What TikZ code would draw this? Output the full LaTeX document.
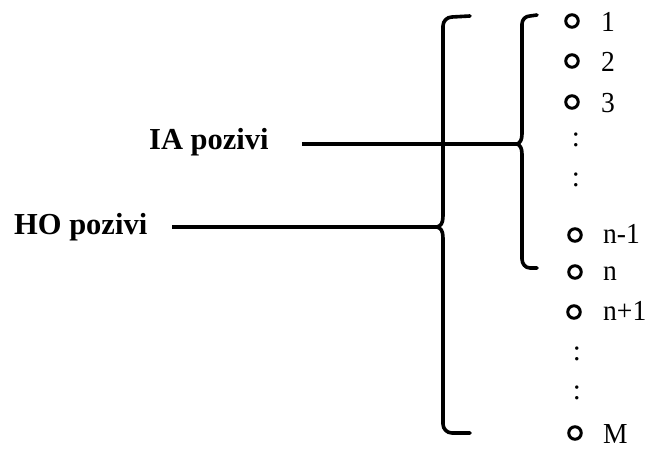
\documentclass[tikz,border=0pt]{standalone}
\usepackage{fontspec}
\setmainfont{Liberation Serif}
\begin{document}
\begin{tikzpicture}[x=1pt,y=-1pt,
  brk/.style={line width=3.6pt,line cap=round,line join=round},
  ln/.style={line width=3.4pt},
  bul/.style={circle,draw,line width=3pt,minimum size=12.5pt,inner sep=0pt},
  lab/.style={font=\fontsize{29}{29}\selectfont,inner sep=0pt,anchor=base west,xscale=0.95},
  dotc/.style={font=\fontsize{29}{29}\selectfont,inner sep=0pt},
  big/.style={font=\fontsize{30.5}{30}\selectfont\bfseries,inner sep=0pt,anchor=base west}]
\useasboundingbox (0,0) rectangle (649,449);
% labels
\node[big] (ia) at (149,150) {IA pozivi};
\node[big] (ho) at (14,235) {HO pozivi};
% cusps
\coordinate (ocusp) at (437,227);
\coordinate (icusp) at (517,144);
% outer bracket
\draw[brk] (470,16) -- (452,17) to[out=180,in=90] (443,26) -- (443,216)
  .. controls (443,223) and (441,226) .. (ocusp)
  .. controls (441,228) and (443,231) .. (443,238) -- (443,424)
  to[out=-90,in=180] (452,433) -- (470,433);
% inner bracket
\draw[brk] (537,15) -- (530,16) to[out=180,in=90] (522,24) -- (522,134)
  .. controls (522,140) and (520,143) .. (icusp)
  .. controls (520,145) and (522,148) .. (522,154) -- (522,259)
  to[out=-90,in=180] (530,268) -- (537,268);
% connectors
\draw[ln] ([xshift=33pt]ia.east |- icusp) -- (icusp);
\draw[ln] ([xshift=25pt]ho.east |- ocusp) -- (ocusp);
% list
\node[bul] (b1) at (572,21) {};
\node[lab] (t1) at (601,32) {1};
\node[bul] (b2) at (572,61) {};
\node[lab] (t2) at (601,72) {2};
\node[bul] (b3) at (572,102) {};
\node[lab] (t3) at (601,113) {3};
\node[dotc] (d1) at (576,140) {:};
\node[dotc] (d2) at (576,180) {:};
\node[bul] (b4) at (575,235) {};
\node[lab] (t4) at (603,244) {n-1};
\node[bul] (b5) at (575,272) {};
\node[lab] (t5) at (603,281) {n};
\node[bul] (b6) at (574,312) {};
\node[lab] (t6) at (603,321) {n+1};
\node[dotc] (d3) at (577,354) {:};
\node[dotc] (d4) at (577,393) {:};
\node[bul] (b7) at (575,433) {};
\node[lab] (t7) at (603,444) {M};
\end{tikzpicture}
\end{document}
